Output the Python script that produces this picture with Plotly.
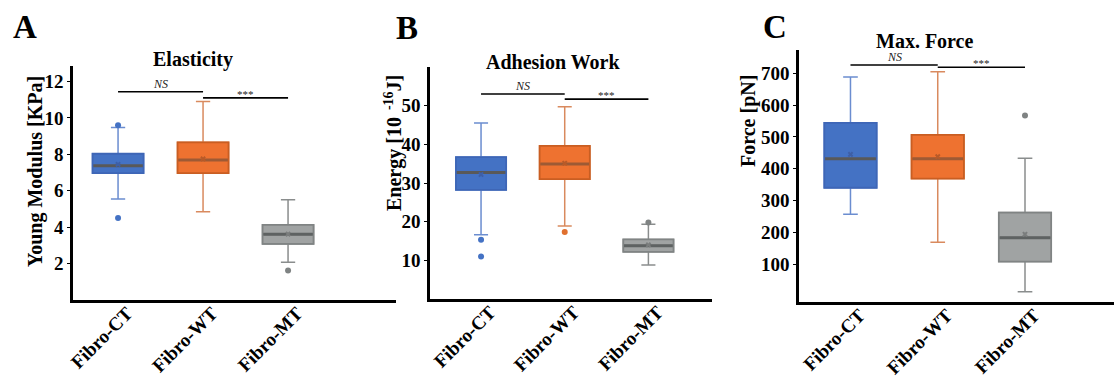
import plotly.graph_objects as go

# ---------------- data ----------------
categories = ["Fibro-CT", "Fibro-WT", "Fibro-MT"]

# Panel A - Elasticity (Young Modulus, KPa)
q1_A = [6.97, 6.97, 3.08]
median_A = [7.37, 7.69, 3.61]
q3_A = [8.03, 8.66, 4.12]
lower_A = [5.55, 4.85, 2.07]
upper_A = [9.47, 10.9, 5.5]
mean_A = [7.45, 7.75, 3.62]
outliers_A = [[9.6, 4.5], [], [1.62]]
sig_A = [11.44, 11.1]
yticks_A = [2, 4, 6, 8, 10, 12]

# Panel B - Adhesion Work (Energy, 10^-16 J)
q1_B = [28.2, 31.0, 12.2]
median_B = [32.7, 34.9, 13.8]
q3_B = [36.7, 39.6, 15.4]
lower_B = [16.6, 18.9, 8.8]
upper_B = [45.5, 49.7, 19.3]
mean_B = [32.2, 35.1, 14.0]
outliers_B = [[15.3, 11.0], [17.3], [19.8]]
sig_B = [53.0, 51.7]
yticks_B = [10, 20, 30, 40, 50]

# Panel C - Max. Force (pN)
q1_C = [340, 369, 108]
median_C = [431, 431, 183]
q3_C = [544, 506, 262]
lower_C = [257, 169, 13]
upper_C = [688, 705, 433]
mean_C = [445, 438, 194]
outliers_C = [[], [], [567]]
sig_C = [726, 719]
yticks_C = [100, 200, 300, 400, 500, 600, 700]

sig_labels = ["NS", "***"]

# ---------------- styles ----------------
fill_colors = ["#4472C4", "#EE7230", "#A0A3A3"]
border_colors = ["#3E66B6", "#C95E22", "#808484"]
whisker_colors = ["#6B8DD0", "#D98A5E", "#8A8D8D"]
median_colors = ["#595959", "#9E5A34", "#5E6262"]
mean_colors = ["#3E5FA6", "#B85A28", "#7A7D7D"]
point_colors = ["#4472C4", "#E0702F", "#7F8383"]

FONT = "Liberation Serif"
BOX_W = 0.6

fig = go.Figure()


def add_panel(ax, q1, med, q3, lo, hi, mean, outl, sig):
    xa = "x" if ax == 1 else f"x{ax}"
    ya = "y" if ax == 1 else f"y{ax}"
    for i, c in enumerate(categories):
        # whiskers + box
        fig.add_trace(go.Box(
            x=[c], q1=[q1[i]], median=[med[i]], q3=[q3[i]],
            lowerfence=[lo[i]], upperfence=[hi[i]],
            fillcolor=fill_colors[i], line=dict(color=whisker_colors[i], width=1.5),
            width=BOX_W, whiskerwidth=0.28, boxpoints=False,
            xaxis=xa, yaxis=ya, showlegend=False, hoverinfo="skip"))
        # box border
        fig.add_trace(go.Box(
            x=[c], q1=[q1[i]], median=[med[i]], q3=[q3[i]],
            lowerfence=[q1[i]], upperfence=[q3[i]],
            fillcolor=fill_colors[i], line=dict(color=border_colors[i], width=1.8),
            width=BOX_W, whiskerwidth=0, boxpoints=False,
            xaxis=xa, yaxis=ya, showlegend=False, hoverinfo="skip"))
        # median line
        fig.add_trace(go.Box(
            x=[c], q1=[med[i]], median=[med[i]], q3=[med[i]],
            lowerfence=[med[i]], upperfence=[med[i]],
            fillcolor="rgba(0,0,0,0)", line=dict(color=median_colors[i], width=3),
            width=BOX_W * 0.97, whiskerwidth=0, boxpoints=False,
            xaxis=xa, yaxis=ya, showlegend=False, hoverinfo="skip"))
        # mean marker
        fig.add_trace(go.Scatter(
            x=[c], y=[mean[i]], mode="markers",
            marker=dict(symbol="x", size=5, color=mean_colors[i]),
            xaxis=xa, yaxis=ya, showlegend=False, hoverinfo="skip"))
        # outliers
        if outl[i]:
            fig.add_trace(go.Scatter(
                x=[c] * len(outl[i]), y=outl[i], mode="markers",
                marker=dict(symbol="circle", size=6, color=point_colors[i]),
                xaxis=xa, yaxis=ya, showlegend=False, hoverinfo="skip"))
    # significance lines
    for k in range(2):
        fig.add_trace(go.Scatter(
            x=[categories[k], categories[k + 1]], y=[sig[k], sig[k]],
            mode="lines", line=dict(color="black", width=1.6),
            xaxis=xa, yaxis=ya, showlegend=False, hoverinfo="skip"))
        fig.add_annotation(
            x=k + 0.5, y=sig[k], xref=xa, yref=ya,
            text=f"<i>{sig_labels[k]}</i>" if k == 0 else sig_labels[k],
            showarrow=False, xanchor="center", yanchor="bottom",
            yshift=-1 if k == 0 else -4,
            font=dict(family=FONT, size=12 if k == 0 else 11, color="#222"))


add_panel(1, q1_A, median_A, q3_A, lower_A, upper_A, mean_A, outliers_A, sig_A)
add_panel(2, q1_B, median_B, q3_B, lower_B, upper_B, mean_B, outliers_B, sig_B)
add_panel(3, q1_C, median_C, q3_C, lower_C, upper_C, mean_C, outliers_C, sig_C)

W, H = 1115, 380


def px(x):
    return x / W


def py(y):
    return 1 - y / H


tickfont = dict(family=FONT, size=19, color="black", weight="bold")
xtickfont = dict(family=FONT, size=19, color="black", weight="bold")


def xaxis(dom, rng):
    return dict(domain=dom, range=rng, type="category", categoryorder="array",
                categoryarray=categories, showline=True, linecolor="black",
                linewidth=2.5, ticks="", tickangle=-45, tickfont=xtickfont,
                ticklabelstandoff=-8, ticklabelshift=9,
                showgrid=False, zeroline=False, fixedrange=True, automargin=False)


def yaxis(dom, rng, vals, anchor):
    return dict(domain=dom, range=rng, tickvals=vals, showline=True,
                linecolor="black", linewidth=2.5, ticks="outside", ticklen=3,
                tickwidth=1.2, tickcolor="black", tickfont=tickfont,
                showgrid=False, zeroline=False, anchor=anchor, fixedrange=True,
                automargin=False)


fig.update_layout(
    width=W, height=H, margin=dict(l=0, r=0, t=0, b=0, autoexpand=False),
    paper_bgcolor="white", plot_bgcolor="white", showlegend=False,
    boxmode="overlay",
    xaxis=dict(**xaxis([px(73), px(396)], [-0.53, 3.27]), anchor="y"),
    yaxis=yaxis([py(300), py(66)], [0, 12.85], yticks_A, "x"),
    xaxis2=dict(**xaxis([px(430), px(712)], [-0.61, 2.76]), anchor="y2"),
    yaxis2=yaxis([py(299), py(67)], [0, 60], yticks_B, "x2"),
    xaxis3=dict(**xaxis([px(799), px(1114)], [-0.59, 3.02]), anchor="y3"),
    yaxis3=yaxis([py(302), py(50)], [-19, 773], yticks_C, "x3"),
)

# titles, panel letters, axis titles
titles = [("Elasticity", 193, 59), ("Adhesion Work", 553, 62), ("Max. Force", 924, 41)]
for t, x, y in titles:
    fig.add_annotation(text=f"<b>{t}</b>", x=px(x), y=py(y), xref="paper", yref="paper",
                       showarrow=False, xanchor="center", yanchor="middle",
                       font=dict(family=FONT, size=20, color="black"))

letters = [("A", 25, 27), ("B", 407, 28), ("C", 775, 27)]
for t, x, y in letters:
    fig.add_annotation(text=f"<b>{t}</b>", x=px(x), y=py(y), xref="paper", yref="paper",
                       showarrow=False, xanchor="center", yanchor="middle",
                       font=dict(family=FONT, size=33, color="black"))

ylabels = [("Young Modulus [KPa]", 35, 172),
           ("Energy [10<sup>  -16</sup>J]", 394, 143),
           ("Force [pN]", 748, 121)]
for t, x, y in ylabels:
    fig.add_annotation(text=f"<b>{t}</b>", x=px(x), y=py(y), xref="paper", yref="paper",
                       showarrow=False, xanchor="center", yanchor="middle", textangle=-90,
                       font=dict(family=FONT, size=20, color="black"))

fig.write_html("out.html", config={"displayModeBar": False},
               post_script="document.body.style.margin='0';document.body.style.overflow='hidden';")
